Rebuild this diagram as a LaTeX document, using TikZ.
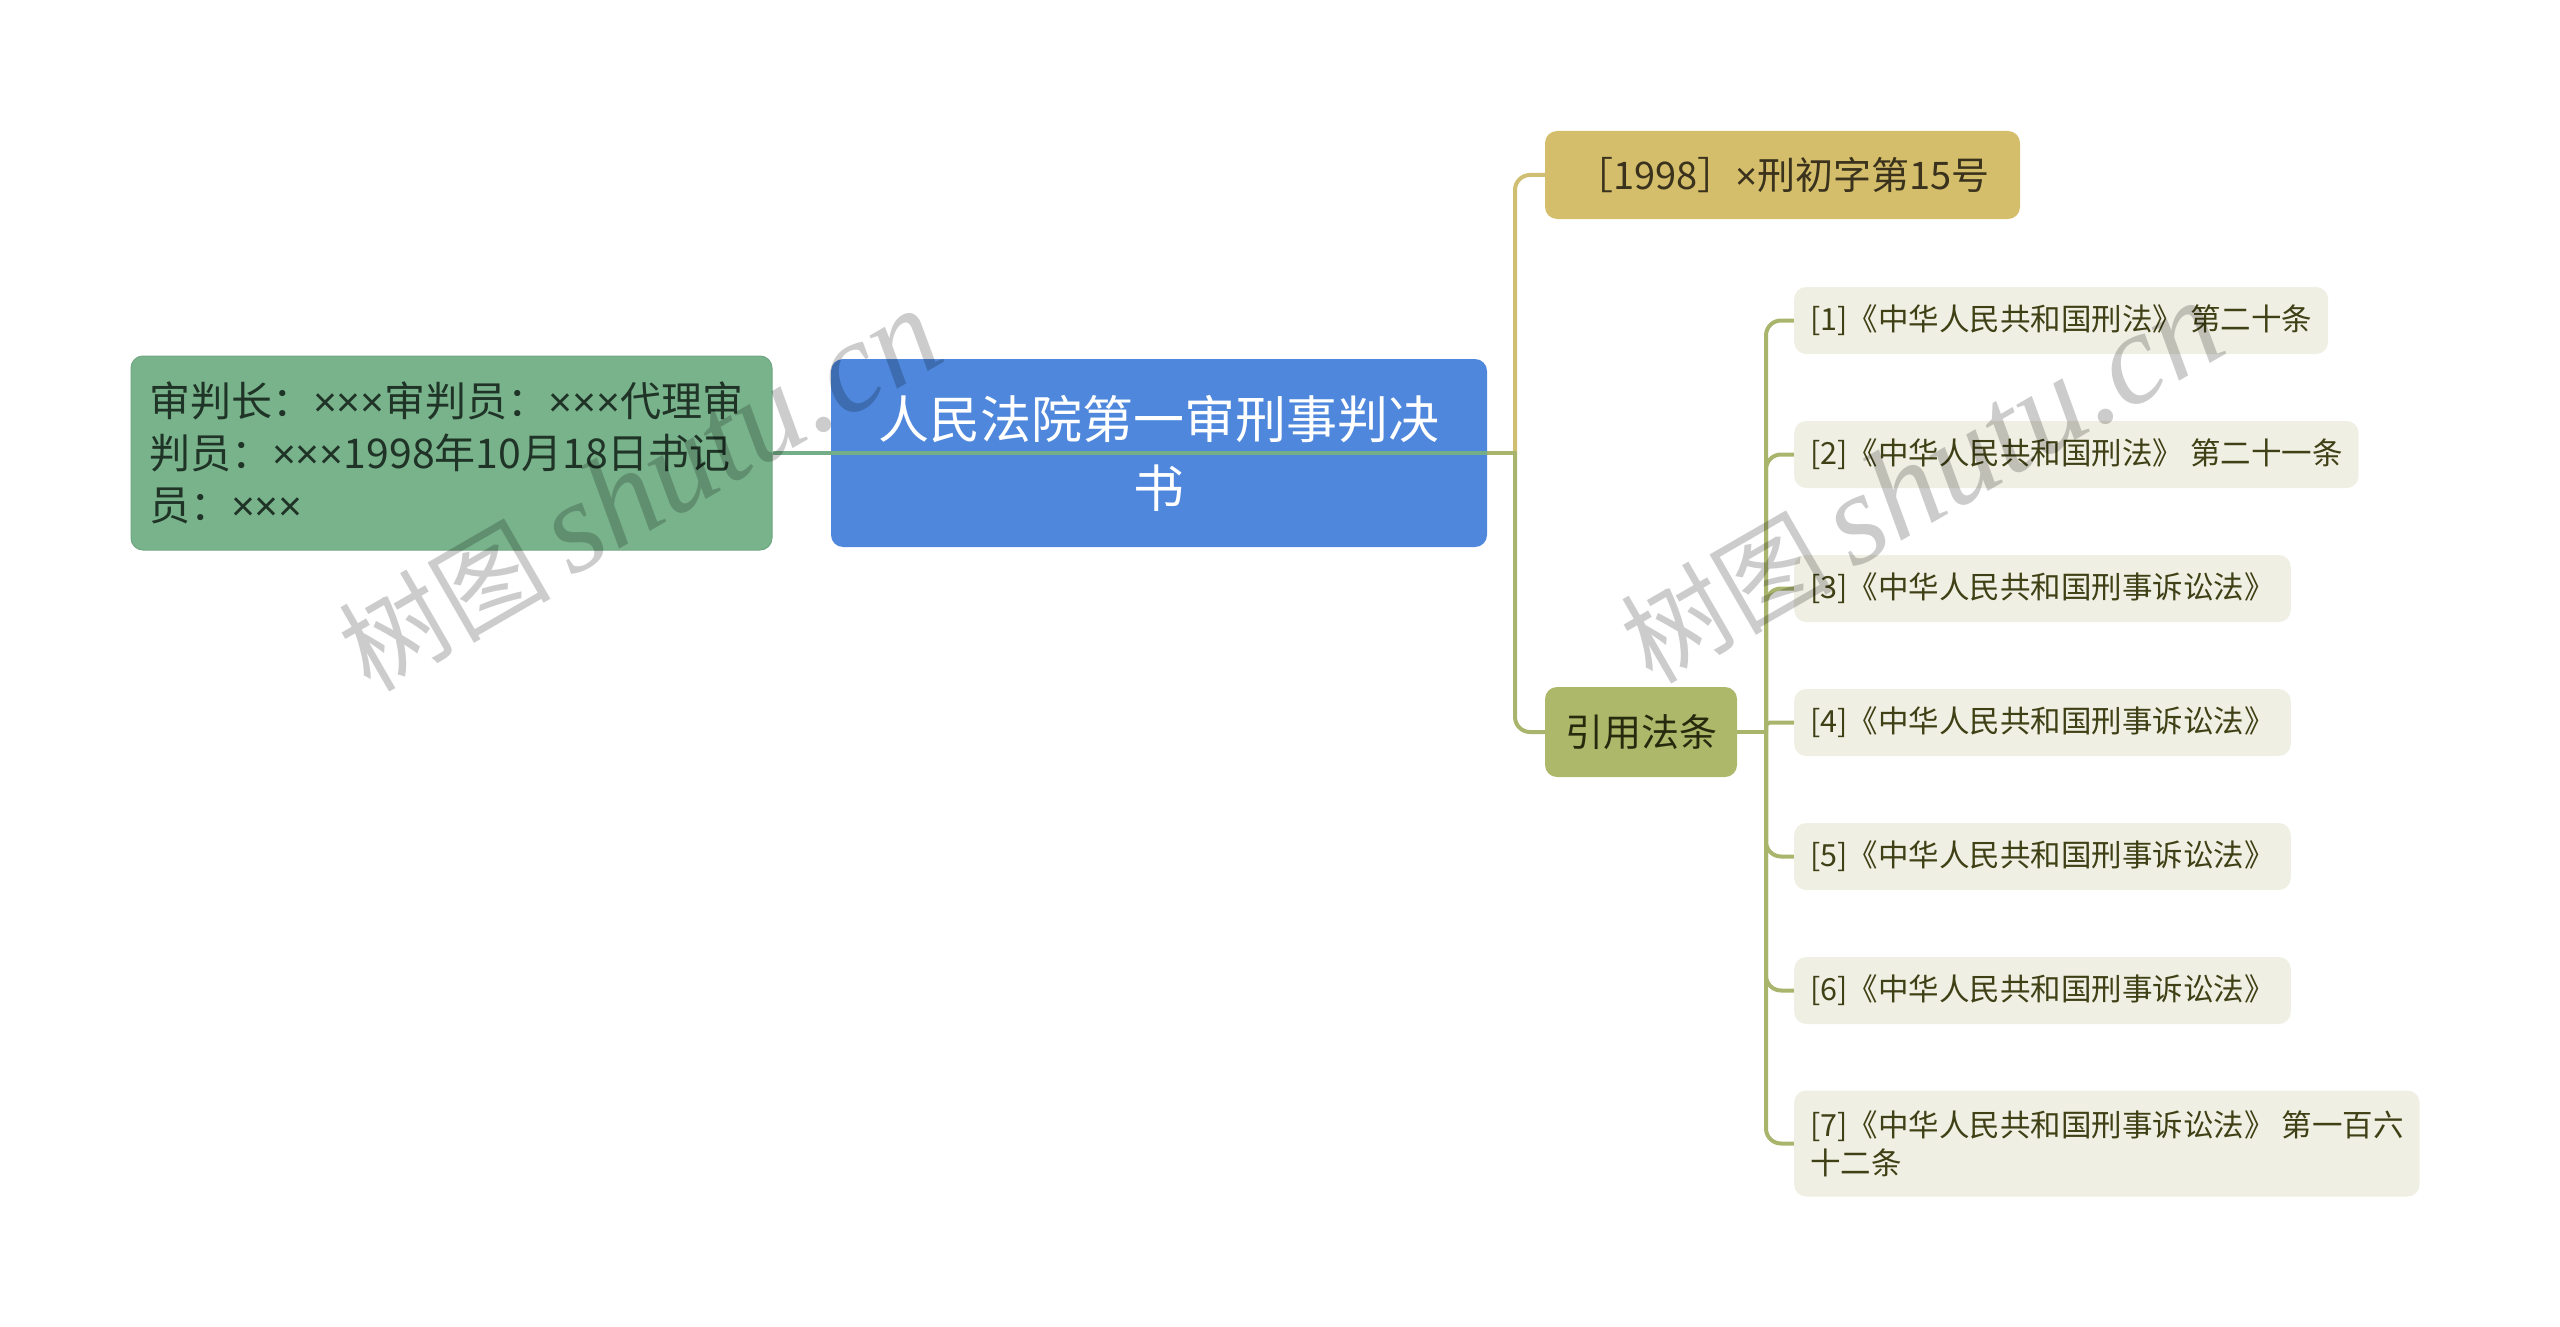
\documentclass[tikz,border=0pt]{standalone}
\usepackage{fontspec}
\setmainfont{Noto Sans CJK SC}
\newfontfamily\wmserif{Liberation Serif}
\newfontfamily\latinsans{Liberation Sans}
\newcommand\xmul{{\latinsans ×}}
\usetikzlibrary{backgrounds}
\definecolor{cgreen}{HTML}{79B38C}
\definecolor{cgreenD}{HTML}{6FA782}
\definecolor{cgreenT}{HTML}{1F3326}
\definecolor{cgline}{HTML}{74AE88}
\definecolor{cblue}{HTML}{4E87DC}
\definecolor{cgold}{HTML}{D4BE6C}
\definecolor{cgoldT}{HTML}{3A321C}
\definecolor{cgoldline}{HTML}{D0BF72}
\definecolor{colive}{HTML}{ADB86B}
\definecolor{coliveT}{HTML}{272B0E}
\definecolor{coliveline}{HTML}{A9B56C}
\definecolor{citem}{HTML}{EFEFE3}
\definecolor{citemT}{HTML}{3F4015}
\begin{document}
\begin{tikzpicture}[x=1pt,y=-1pt,
  box/.style={rounded corners=12pt, inner xsep=18pt, inner ysep=0pt, align=left},
  itembox/.style={box, fill=citem, text=citemT, inner xsep=16pt, anchor=west, minimum height=67pt, font=\fontsize{30.5}{38}\selectfont},
  conn/.style={line width=4pt, line cap=round},
  wm/.style={text=black, text opacity=0.2, inner sep=0pt}]
\useasboundingbox (0,0) rectangle (2560,1327);

% trunk points
\coordinate (trunkA) at (1515,453);
\coordinate (trunkB) at (1766,732);

% nodes
\node[box, fill=cgreen, draw=cgreenD, line width=1pt, text=cgreenT, text width=605pt, minimum height=194pt, font=\fontsize{41}{52}\selectfont] (judges) at (451.5,453) {审判长：\xmul\xmul\xmul 审判员：\xmul\xmul\xmul 代理审\\判员：\xmul\xmul\xmul 1998年10月18日书记\\员：\xmul\xmul\xmul};
\node[box, fill=cblue, text=white, align=center, text width=620pt, minimum height=188pt, font=\fontsize{51}{69}\selectfont] (root) at (1159,453) {人民法院第一审刑事判决\\书};
\node[box, fill=cgold, text=cgoldT, align=center, minimum width=475pt, minimum height=88pt, font=\fontsize{38}{46}\selectfont] (case) at (1782.5,175) {［1998］\xmul 刑初字第15号};
\node[box, fill=colive, text=coliveT, align=center, minimum width=192pt, minimum height=90pt, font=\fontsize{38}{46}\selectfont] (cite) at (1641,732) {引用法条};

\node[itembox] (i1) at (1794,320.5) {[1]《中华人民共和国刑法》 第二十条};
\node[itembox] (i2) at (1794,454.5) {[2]《中华人民共和国刑法》 第二十一条};
\node[itembox] (i3) at (1794,588.5) {[3]《中华人民共和国刑事诉讼法》};
\node[itembox] (i4) at (1794,722.5) {[4]《中华人民共和国刑事诉讼法》};
\node[itembox] (i5) at (1794,856.5) {[5]《中华人民共和国刑事诉讼法》};
\node[itembox] (i6) at (1794,990.5) {[6]《中华人民共和国刑事诉讼法》};
\node[itembox, minimum height=106pt] (i7) at (1794,1143.5) {[7]《中华人民共和国刑事诉讼法》 第一百六\\十二条};

% connectors behind nodes
\begin{scope}[on background layer]
\draw[conn, cgoldline, rounded corners=15pt] (trunkA) |- (case.west);
\draw[conn, coliveline, rounded corners=15pt] (trunkA) |- (cite.west);
\draw[conn, coliveline] (root.east) -- (trunkA);
\draw[conn, coliveline] (cite.east) -- (trunkB);
\draw[conn, coliveline, rounded corners=15pt] (trunkB) |- (i1.west);
\draw[conn, coliveline, rounded corners=15pt] (trunkB) |- (i2.west);
\draw[conn, coliveline, rounded corners=15pt] (trunkB) |- (i3.west);
\draw[conn, coliveline, rounded corners=4pt] (trunkB) |- (i4.west);
\draw[conn, coliveline, rounded corners=15pt] (trunkB) |- (i5.west);
\draw[conn, coliveline, rounded corners=15pt] (trunkB) |- (i6.west);
\draw[conn, coliveline, rounded corners=15pt] (trunkB) |- (i7.west);
\end{scope}

% green connector runs over the central node
\draw[line width=4pt, cgline] (root.east) -- (judges.east);

% watermarks
\node[wm, rotate=30, anchor=base] (wm1) at (660,526) {{\fontsize{106}{106}\selectfont 树图}\hspace{20pt}{\wmserif\itshape\fontsize{130}{130}\selectfont shutu.cn}};
\node[wm, rotate=30, anchor=base] (wm2) at (1942,518) {{\fontsize{106}{106}\selectfont 树图}\hspace{20pt}{\wmserif\itshape\fontsize{130}{130}\selectfont shutu.cn}};
\end{tikzpicture}
\end{document}
